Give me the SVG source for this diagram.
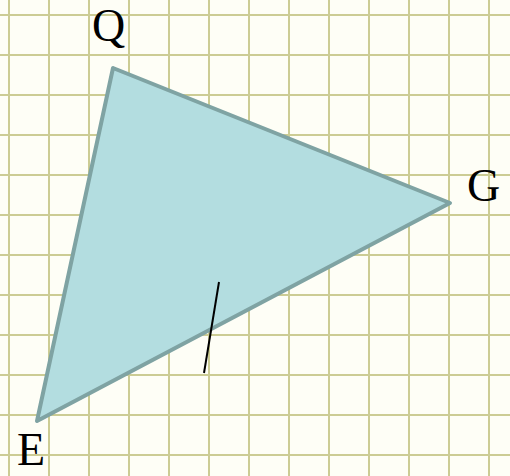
<svg xmlns="http://www.w3.org/2000/svg" width="510" height="476" viewBox="0 0 510 476">
<style>
.grid line{stroke:#cccc94;stroke-width:2}
.lbl{font-family:"Liberation Serif",serif;font-size:46px;fill:#000}
</style>
<rect width="510" height="476" fill="#fefef6"/>
<g class="grid">
<line x1="9" y1="0" x2="9" y2="476"/><line x1="49" y1="0" x2="49" y2="476"/><line x1="89" y1="0" x2="89" y2="476"/><line x1="129" y1="0" x2="129" y2="476"/><line x1="169" y1="0" x2="169" y2="476"/><line x1="209" y1="0" x2="209" y2="476"/><line x1="249" y1="0" x2="249" y2="476"/><line x1="289" y1="0" x2="289" y2="476"/><line x1="329" y1="0" x2="329" y2="476"/><line x1="369" y1="0" x2="369" y2="476"/><line x1="409" y1="0" x2="409" y2="476"/><line x1="449" y1="0" x2="449" y2="476"/><line x1="489" y1="0" x2="489" y2="476"/>
<line x1="0" y1="15" x2="510" y2="15"/><line x1="0" y1="55" x2="510" y2="55"/><line x1="0" y1="95" x2="510" y2="95"/><line x1="0" y1="135" x2="510" y2="135"/><line x1="0" y1="175" x2="510" y2="175"/><line x1="0" y1="215" x2="510" y2="215"/><line x1="0" y1="255" x2="510" y2="255"/><line x1="0" y1="295" x2="510" y2="295"/><line x1="0" y1="335" x2="510" y2="335"/><line x1="0" y1="375" x2="510" y2="375"/><line x1="0" y1="415" x2="510" y2="415"/><line x1="0" y1="455" x2="510" y2="455"/>
</g>
<g id="triangle">
<polygon points="113,68 450,203 37,421" fill="#b3dde0" stroke="#7fa3a3" stroke-width="4" stroke-linejoin="round"/>
</g>
<g id="tick">
<line x1="219" y1="282" x2="204" y2="373" stroke="#000" stroke-width="2"/>
</g>
<g id="labels">
<text class="lbl" x="92" y="41">Q</text>
<text class="lbl" x="467" y="201">G</text>
<text class="lbl" x="17" y="465">E</text>
</g>
</svg>
